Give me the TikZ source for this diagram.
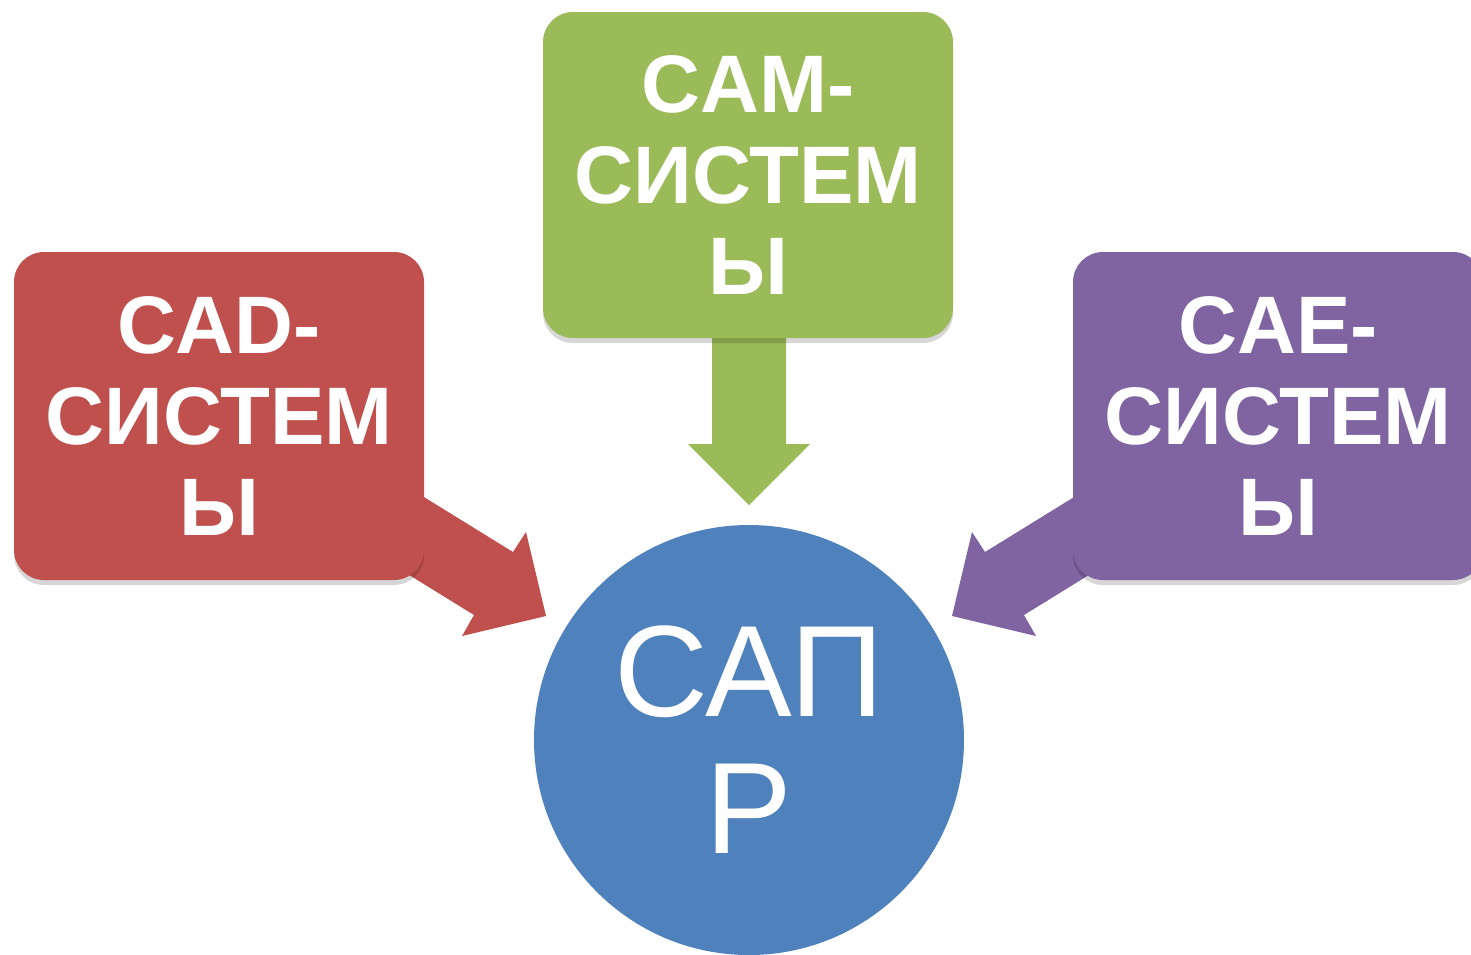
\documentclass[tikz,border=0pt]{standalone}
\usepackage{fontspec}
\setmainfont{Liberation Sans}
\usetikzlibrary{shadows}
\definecolor{cadred}{HTML}{C0504D}
\definecolor{camgreen}{HTML}{9BBB59}
\definecolor{caepurple}{HTML}{8064A2}
\definecolor{sapblue}{HTML}{4F81BD}
\tikzset{
  sysbox/.style={rounded corners=15pt, minimum width=205pt, minimum height=164pt,
    inner sep=0pt, align=center, text=white,
    font=\bfseries\fontsize{40.8pt}{45.3pt}\selectfont,
    drop shadow={shadow xshift=0pt, shadow yshift=-2.5pt, opacity=0.16, fill=black}},
  blockarrow/.style={draw=none}
}
\begin{document}
\begin{tikzpicture}[x=0.5pt,y=-0.5pt]
\clip (0,0) rectangle (1471,954);
\fill[white] (0,0) rectangle (1471,954);
% arrows (behind boxes)
\fill[blockarrow, cadred] (385,473) -- (513,552) -- (526,532) -- (546,616) -- (462,636) -- (474,615) -- (346,536) -- cycle;
\fill[blockarrow, caepurple] (1113,473) -- (985,552) -- (972,532) -- (952,616) -- (1036,636) -- (1024,615) -- (1152,536) -- cycle;
\fill[blockarrow, camgreen] (712,300) -- (712,444) -- (688,444) -- (749,505) -- (810,444) -- (786,444) -- (786,300) -- cycle;
% boxes
\node[sysbox, fill=cadred] (cad) at (219,416) {CAD-\\СИСТЕМ\\Ы};
\node[sysbox, fill=camgreen, minimum height=163pt] (cam) at (748,175) {CAM-\\СИСТЕМ\\Ы};
\node[sysbox, fill=caepurple] (cae) at (1278,416) {CAE-\\СИСТЕМ\\Ы};
% circle
\node[circle, fill=sapblue, minimum size=215pt, inner sep=0pt, align=center, text=white,
  font=\fontsize{65pt}{68.5pt}\selectfont] (sapr) at (749,740) {САП\\Р};
\end{tikzpicture}
\end{document}
